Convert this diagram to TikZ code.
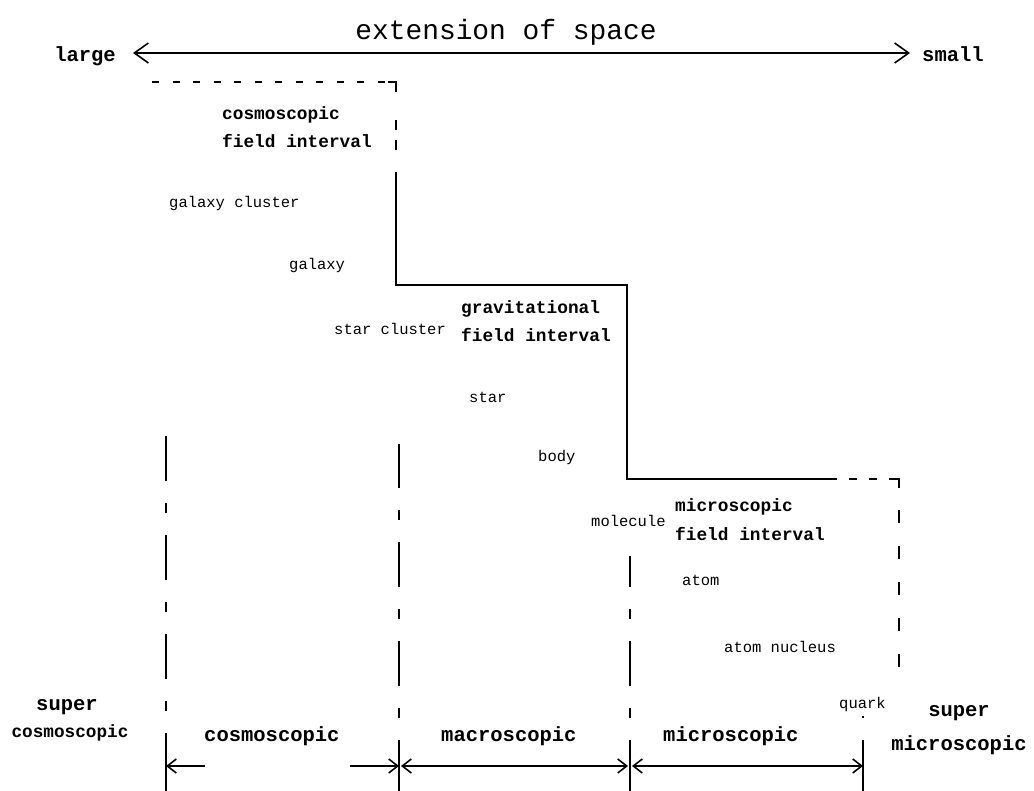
\documentclass[tikz,border=0pt]{standalone}
\usepackage{fontspec}
\setmainfont{Liberation Mono}
\usetikzlibrary{arrows.meta}

\begin{document}
\begin{tikzpicture}[x=1pt,y=-1pt,>={Straight Barb[length=9pt,width=14pt]},
    thing/.style={font=\fontsize{15.5}{17}\selectfont,inner sep=0pt,anchor=base west},
    field/.style={font=\bfseries\fontsize{17.8}{28.5}\selectfont,inner sep=0pt,anchor=base west,align=left},
    rangelbl/.style={font=\bfseries\fontsize{20.5}{22}\selectfont,inner sep=0pt},
    edge/.style={line width=1.6pt},
    bound/.style={line width=1.3pt,dash pattern=on 45pt off 22pt on 10pt off 22pt,dash phase=45pt}]
            \useasboundingbox (0,0) rectangle (1034,791);

            % axis of space
            \coordinate (lt) at (133,53);
            \coordinate (rt) at (910,53);
            \draw[edge,<->,>={Straight Barb[length=14pt,width=20pt]}] (lt) -- (rt);
            \node[anchor=base,inner sep=0pt,font=\fontsize{27.9}{30}\selectfont] (title) at (506,40) {extension of space};
            \node[rangelbl,anchor=base east] (large) at (116,62) {large};
            \node[rangelbl,anchor=base west] (small) at (922,62) {small};

            % field intervals
            \draw[edge,dash pattern=on 7pt off 13.5pt] (152,82) -- (388,82);
            \draw[edge] (388,82) -- (396,82) -- (396,92);
            \draw[edge,dash pattern=on 10pt off 10pt] (396,120) -- (396,150);
            \draw[edge] (396,172) -- (396,285) -- (627,285) -- (627,479) -- (837,479);
            \draw[edge,dash pattern=on 8pt off 12pt,dash phase=8pt] (837,479) -- (891,479);
            \draw[edge] (891,479) -- (899,479) -- (899,488);
            \draw[line width=1.3pt,dash pattern=on 13pt off 23pt] (899,510) -- (899,672);

            % (base = last line)
            \node[field] (cosmofield) at (222,148) {cosmoscopic\\field interval};
            \node[field] (gravfield) at (461,342) {gravitational\\field interval};
            \node[field] (microfield) at (675,540) {microscopic\\field interval};

            % objects
            \node[thing] (galcluster) at (169,208) {galaxy cluster};
            \node[thing] (galaxy) at (289,270) {galaxy};
            \node[thing] (starcluster) at (334,335) {star cluster};
            \node[thing] (star) at (469,403) {star};
            \node[thing] (body) at (538,462) {body};
            \node[thing] (molecule) at (591,526) {molecule};
            \node[thing] (atom) at (682,585) {atom};
            \node[thing] (nucleus) at (724,652) {atom nucleus};
            \node[thing] (quark) at (839,708) {quark};

            % boundaries of the ranges
            \coordinate (b1) at (166,766);
            \coordinate (b2) at (399,766);
            \coordinate (b3) at (630,766);
            \coordinate (b4) at (863,766);
            \draw[line width=1.3pt] (166,791) -- (166,733);
            \draw[bound] (166,733) -- (166,435);
            \draw[line width=1.3pt] (399,791) -- (399,740);
            \draw[bound] (399,740) -- (399,444);
            \draw[line width=1.3pt] (630,791) -- (630,740);
            \draw[bound] (630,740) -- (630,556);
            \draw[line width=1.3pt] (863,791) -- (863,740);
            \draw[bound] (863,740) -- (863,716);

            \coordinate (c1) at (205,766);
            \coordinate (c2) at (350,766);
            \draw[edge,->] (c1) -- (b1);
            \draw[edge,->] (c2) -- (b2);
            \draw[edge,<->,shorten <=2pt,shorten >=2pt] (b2) -- (b3);
            \draw[edge,<->,shorten <=2pt] (b3) -- (b4);

            % ranges
            \node[rangelbl,anchor=base] (supercosmo) at (67,710) {super};
            \node[rangelbl,anchor=base,font=\bfseries\fontsize{17.7}{20}\selectfont] (supercosmo2) at (70,737) {cosmoscopic};
            \node[rangelbl,anchor=base west] (cosmo) at (204,741) {cosmoscopic};
            \node[rangelbl,anchor=base west] (macro) at (441,741) {macroscopic};
            \node[rangelbl,anchor=base west] (micro) at (663,741) {microscopic};
            \node[rangelbl,anchor=base] (supermicro) at (959,716) {super};
            \node[rangelbl,anchor=base] (supermicro2) at (959,750) {microscopic};
        \end{tikzpicture}
\end{document}
